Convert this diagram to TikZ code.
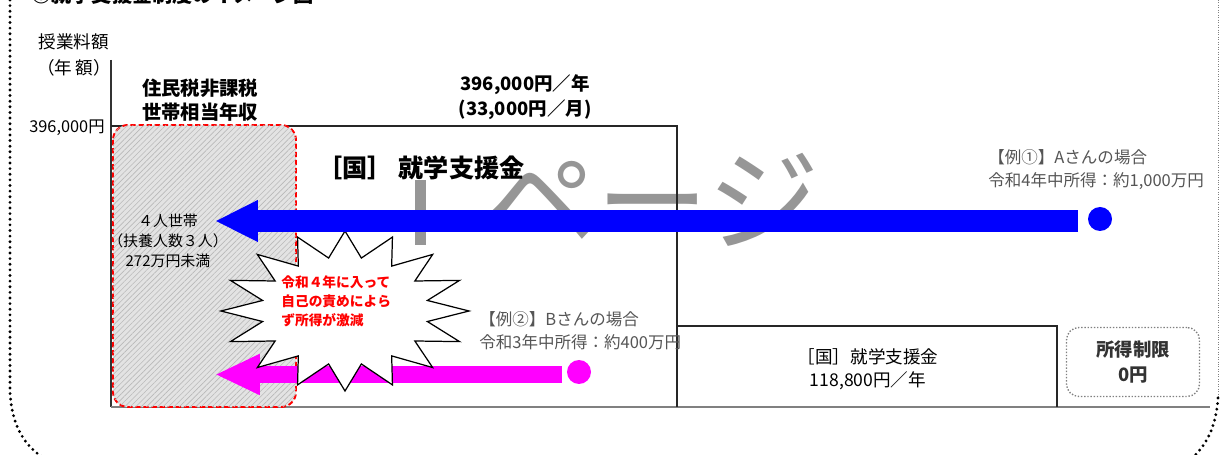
\documentclass[tikz,border=0pt]{standalone}
\usepackage{fontspec}
\setmainfont{Noto Sans CJK JP}
\usetikzlibrary{arrows.meta,patterns.meta,calc}
\newcommand\fsz[2]{\fontsize{#1pt}{#2pt}\selectfont}
\definecolor{pblue}{RGB}{0,0,255}
\definecolor{pmag}{RGB}{255,0,255}
\definecolor{txtgray}{RGB}{85,85,85}
\definecolor{wmgray}{RGB}{150,150,150}
\tikzset{
  lbl/.style={inner sep=0pt, align=center},
  frame/.style={line width=1.8pt, dash pattern=on 0pt off 3.2pt, line cap=round},
  axisline/.style={line width=0.8pt, black!80},
  baseline/.style={line width=0.8pt, gray},
  boxline/.style={line width=0.7pt, black!85},
  hatchbox/.style={fill=gray!22, draw=red, line width=1.1pt, dash pattern=on 3pt off 1.6pt, rounded corners=0.3cm,
    postaction={pattern={Lines[angle=45,distance=2.2pt,line width=0.35pt]}, pattern color=gray!55}},
  burst/.style={fill=white, draw=black, line width=0.7pt, line join=miter},
  dot/.style={circle, inner sep=0pt, minimum size=0.48cm},
  extext/.style={inner sep=0pt, align=left, anchor=west, text=txtgray, font=\fsz{9.4}{13}},
}
\begin{document}
\begin{tikzpicture}[x=0.02cm,y=-0.02cm]
\useasboundingbox (0,0) rectangle (1221,455);
% cut title
\node[anchor=base west, inner sep=0pt, font=\fsz{11.5}{13}\bfseries] (title) at (31,3) {◎就学支援金制度のイメージ図};
% outer frame
\draw[frame] (10,0) -- (10,392) .. controls (12,428) and (26,447) .. (44,458);
\draw[gray, line width=0.4pt, densely dotted] (1218,0) -- (1218,398);
\draw[frame] (1218,398) .. controls (1216,428) and (1206,446) .. (1190,460);
% watermark
\fill[wmgray] (415,180) rectangle (426,245);
\node[lbl, text=wmgray, font=\fsz{64}{64}] (wm) at (652,200) {ページ};
% axis and boxes
\draw[axisline] (111,60) -- (111,407);
\draw[baseline] (111,407) -- (1210,407);
\draw[boxline] (111,126) -- (677,126) -- (677,407);
\draw[boxline] (677,326) -- (1057,326) -- (1057,407);
% labels
\node[lbl, font=\fsz{10}{12}] (ylab1) at (74,42) {授業料額};
\node[lbl, font=\fsz{10}{12}] (ylab2) at (74,68) {（年\,額）};
\node[lbl, anchor=east, font=\fsz{9.3}{10}] (ytick) at (105,128) {396,000円};
\node[lbl, font=\fsz{11}{14}\bfseries] (hdr) at (200,100) {住民税非課税\\世帯相当年収};
\node[lbl, font=\fsz{10.5}{14}\bfseries] (amt) at (525,97) {396,000円／年\\(33,000円／月)};
\node[lbl, font=\fsz{14.3}{16}\bfseries] (kuni) at (421,168) {［国］ 就学支援金};
% hatched region
\path[hatchbox] (113,125) rectangle (296,407);
\node[lbl, font=\fsz{8.5}{11.5}] (house) at (168,241) {４人世帯\\（扶養人数３人）\\272万円未満};
% magenta arrow
\coordinate (bstart) at (562,374.5);
\coordinate (btip) at (215,374.5);
\node[dot, fill=pmag] (bdot) at (579,372) {};
\draw[pmag, line width=9.6pt, -{Triangle[length=25.5pt,width=21.5pt]}] (bstart) -- (btip);
% starburst
\coordinate (c) at (345,311);
\draw[burst] ($(c)+(0:124 and 80)$)
  \foreach \k in {1,...,15} { -- ($(c)+({\k*22.5-11.25}:84 and 54)$) -- ($(c)+({\k*22.5}:124 and 80)$) }
  -- ($(c)+(348.75:84 and 54)$) -- cycle;
\node[lbl, anchor=west, align=left, text=red, font=\fsz{7.8}{10.8}\bfseries] (reason) at (281,301) {令和４年に入って\\自己の責めによら\\ず所得が激減};
% blue arrow
\coordinate (astart) at (1078,221);
\coordinate (atip) at (215,221);
\node[dot, fill=pblue] (adot) at (1100,219) {};
\draw[pblue, line width=12.5pt, -{Triangle[length=24.4pt,width=22pt]}] (astart) -- (atip);
% example texts
\node[extext] (exA) at (988,170) {【例①】Aさんの場合\\令和4年中所得：約1,000万円};
\node[extext] (exB) at (479,331) {【例②】Bさんの場合\\令和3年中所得：約400万円};
% lower box text
\node[lbl, font=\fsz{10}{13}] (kuni2) at (868,369) {［国］就学支援金\\118,800円／年};
\node[lbl, draw=gray, densely dotted, line width=0.8pt, rounded corners=0.25cm, minimum width=2.66cm, minimum height=1.38cm, text=black!80, font=\fsz{10.5}{14}\bfseries] (limit) at (1133,362) {所得制限\\0円};
\end{tikzpicture}
\end{document}
